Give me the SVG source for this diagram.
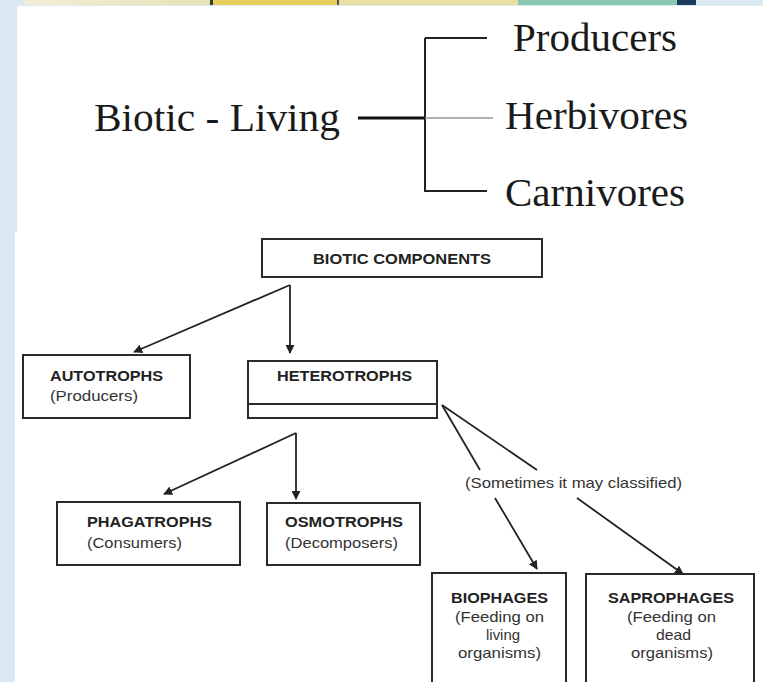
<svg xmlns="http://www.w3.org/2000/svg" width="763" height="682" viewBox="0 0 763 682">
<defs>
<linearGradient id="cream" x1="0" y1="0" x2="1" y2="0">
<stop offset="0" stop-color="#f2efd8"/>
<stop offset="1" stop-color="#e6e2b4"/>
</linearGradient>
<marker id="arr" viewBox="0 0 10 10" refX="9" refY="5" markerWidth="9" markerHeight="9" markerUnits="userSpaceOnUse" orient="auto">
<path d="M0,0 L10,5 L0,10 z" fill="#222"/>
</marker>
<style>
.serif{font-family:"Liberation Serif","Times New Roman",serif;font-size:39px;fill:#1a1a1a}
.b{font-family:"Liberation Sans",Arial,sans-serif;font-weight:bold;font-size:14.5px;fill:#222}
.r{font-family:"Liberation Sans",Arial,sans-serif;font-size:14.5px;fill:#333}
.box{fill:none;stroke:#2a2a2a;stroke-width:2}
.ln{fill:none;stroke:#222;stroke-width:1.8}
</style>
</defs>
<rect x="0" y="0" width="763" height="682" fill="#dbeaf2"/>
<!-- top strip -->
<rect x="24" y="0" width="186" height="5" fill="url(#cream)"/>
<rect x="210" y="0" width="3" height="5" fill="#3a3a2a"/>
<rect x="213" y="0" width="124" height="5" fill="#e6cf5a"/>
<rect x="337" y="0" width="2" height="5" fill="#555"/>
<rect x="339" y="0" width="179" height="5" fill="#e8e0a2"/>
<rect x="518" y="0" width="159" height="5" fill="#88c8b0"/>
<rect x="677" y="0" width="19" height="5" fill="#1e3a5a"/>
<!-- panels -->
<rect x="17" y="6" width="746" height="227" fill="#ffffff"/>
<rect x="15" y="232" width="748" height="450" fill="#ffffff"/>

<!-- top classification -->
<g id="top-root"><text class="serif" x="94" y="131" textLength="246" lengthAdjust="spacingAndGlyphs">Biotic - Living</text></g>
<g id="top-producers"><text class="serif" x="513" y="51" textLength="164" lengthAdjust="spacingAndGlyphs">Producers</text></g>
<g id="top-herbivores"><text class="serif" x="505" y="129" textLength="183" lengthAdjust="spacingAndGlyphs">Herbivores</text></g>
<g id="top-carnivores"><text class="serif" x="505" y="206" textLength="180" lengthAdjust="spacingAndGlyphs">Carnivores</text></g>

<!-- bottom nodes -->
<g id="biotic-components">
<rect class="box" x="262" y="239" width="280" height="38"/>
<text class="b" x="313" y="264" textLength="178" lengthAdjust="spacingAndGlyphs">BIOTIC COMPONENTS</text>
</g>
<g id="autotrophs">
<rect class="box" x="23" y="355" width="167" height="63"/>
<text class="b" x="50" y="381" textLength="113" lengthAdjust="spacingAndGlyphs">AUTOTROPHS</text>
<text class="r" x="50" y="401" textLength="88" lengthAdjust="spacingAndGlyphs">(Producers)</text>
</g>
<g id="heterotrophs">
<rect class="box" x="248" y="361" width="189" height="57"/>
<line class="box" x1="248" y1="404" x2="437" y2="404"/>
<text class="b" x="277" y="381" textLength="135" lengthAdjust="spacingAndGlyphs">HETEROTROPHS</text>
</g>
<g id="phagatrophs">
<rect class="box" x="57" y="502" width="183" height="63"/>
<text class="b" x="87" y="527" textLength="125" lengthAdjust="spacingAndGlyphs">PHAGATROPHS</text>
<text class="r" x="87" y="548" textLength="95" lengthAdjust="spacingAndGlyphs">(Consumers)</text>
</g>
<g id="osmotrophs">
<rect class="box" x="267" y="503" width="153" height="62"/>
<text class="b" x="285" y="527" textLength="118" lengthAdjust="spacingAndGlyphs">OSMOTROPHS</text>
<text class="r" x="285" y="548" textLength="113" lengthAdjust="spacingAndGlyphs">(Decomposers)</text>
</g>
<g id="classified-label">
<text class="r" x="465" y="488" textLength="217" lengthAdjust="spacingAndGlyphs">(Sometimes it may classified)</text>
</g>
<g id="biophages">
<path class="box" d="M432,690 V573 H566 V690"/>
<text class="b" x="451" y="603" textLength="97" lengthAdjust="spacingAndGlyphs">BIOPHAGES</text>
<text class="r" x="455" y="622" textLength="89" lengthAdjust="spacingAndGlyphs">(Feeding on</text>
<text class="r" x="486" y="640" textLength="34" lengthAdjust="spacingAndGlyphs">living</text>
<text class="r" x="458" y="658" textLength="83" lengthAdjust="spacingAndGlyphs">organisms)</text>
</g>
<g id="saprophages">
<path class="box" d="M586,690 V574 H754 V690"/>
<text class="b" x="608" y="603" textLength="126" lengthAdjust="spacingAndGlyphs">SAPROPHAGES</text>
<text class="r" x="627" y="622" textLength="89" lengthAdjust="spacingAndGlyphs">(Feeding on</text>
<text class="r" x="656" y="640" textLength="35" lengthAdjust="spacingAndGlyphs">dead</text>
<text class="r" x="631" y="658" textLength="82" lengthAdjust="spacingAndGlyphs">organisms)</text>
</g>

<!-- connectors -->
<g id="connectors">
<path d="M425,38 H487 M425,38 V191 H487" fill="none" stroke="#222" stroke-width="2"/>
<line x1="358" y1="118" x2="425" y2="118" stroke="#111" stroke-width="3"/>
<line x1="425" y1="118" x2="493" y2="118" stroke="#999" stroke-width="1.5"/>
<line class="ln" x1="290" y1="285" x2="134" y2="352" marker-end="url(#arr)"/>
<line class="ln" x1="290" y1="285" x2="290" y2="353" marker-end="url(#arr)"/>
<line class="ln" x1="296" y1="433" x2="164" y2="494" marker-end="url(#arr)"/>
<line class="ln" x1="296" y1="433" x2="296" y2="499" marker-end="url(#arr)"/>
<line class="ln" x1="442" y1="405" x2="480" y2="470"/>
<line class="ln" x1="442" y1="405" x2="537" y2="470"/>
<line class="ln" x1="495" y1="498" x2="537" y2="569" marker-end="url(#arr)"/>
<line class="ln" x1="577" y1="498" x2="683" y2="574" marker-end="url(#arr)"/>
</g>
</svg>
